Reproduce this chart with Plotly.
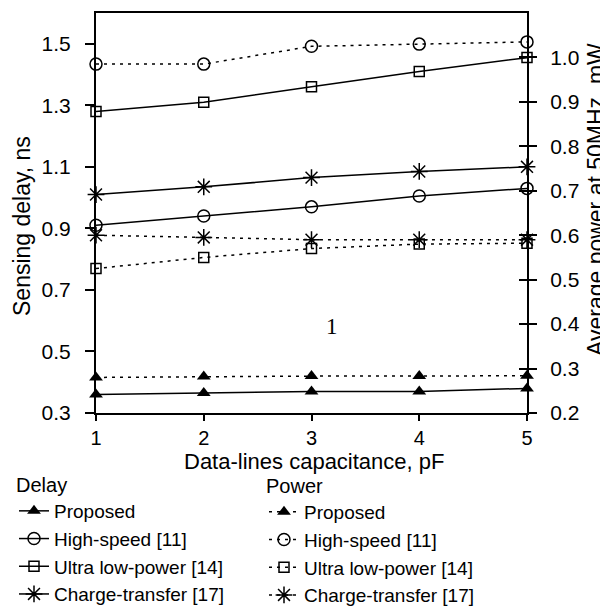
import plotly.graph_objects as go

# ---- data ----
capacitance = [1, 2, 3, 4, 5]

delay_proposed = [0.36, 0.365, 0.37, 0.37, 0.38]
delay_high_speed = [0.91, 0.94, 0.97, 1.005, 1.03]
delay_ultra_low = [1.28, 1.31, 1.36, 1.41, 1.455]
delay_charge = [1.01, 1.035, 1.065, 1.085, 1.10]

power_proposed = [0.28, 0.282, 0.283, 0.283, 0.284]
power_high_speed = [0.985, 0.985, 1.025, 1.03, 1.035]
power_ultra_low = [0.525, 0.55, 0.57, 0.58, 0.582]
power_charge = [0.60, 0.595, 0.59, 0.59, 0.59]

series_names = ["Proposed", "High-speed [11]", "Ultra low-power [14]", "Charge-transfer [17]"]
delay_tick_vals = [0.3, 0.5, 0.7, 0.9, 1.1, 1.3, 1.5]
power_tick_vals = [0.2, 0.3, 0.4, 0.5, 0.6, 0.7, 0.8, 0.9, 1.0]

# ---- styles ----
FONT = "Liberation Sans, Arial, sans-serif"
BLACK = "#000000"
markers = [
    dict(symbol="triangle-up", size=12, color=BLACK, line=dict(width=0)),
    dict(symbol="circle-open", size=12, color=BLACK, line=dict(width=1.5, color=BLACK)),
    dict(symbol="square-open", size=10, color=BLACK, line=dict(width=1.5, color=BLACK)),
    dict(symbol="asterisk-open", size=14, color=BLACK, line=dict(width=1.5, color=BLACK)),
]

delay_series = [delay_proposed, delay_high_speed, delay_ultra_low, delay_charge]
power_series = [power_proposed, power_high_speed, power_ultra_low, power_charge]

fig = go.Figure()
for name, vals, mk in zip(series_names, delay_series, markers):
    fig.add_trace(go.Scatter(
        x=capacitance, y=vals, name=name, mode="lines+markers",
        line=dict(color=BLACK, width=1.5), marker=mk,
        cliponaxis=False, legend="legend", yaxis="y",
    ))
for name, vals, mk in zip(series_names, power_series, markers):
    fig.add_trace(go.Scatter(
        x=capacitance, y=vals, name=name, mode="lines+markers",
        line=dict(color=BLACK, width=1.5, dash="3px,5px"), marker=mk,
        cliponaxis=False, legend="legend2", yaxis="y2",
    ))
# helper (empty) trace for the inner right-axis ticks
fig.add_trace(go.Scatter(x=[], y=[], yaxis="y3", showlegend=False, hoverinfo="skip"))

# page body has an 8px margin: figure origin sits at (8, 8) on screen
OFF = 8
W, H = 600, 601
# plot area in screen pixels: x 96..527, y 13..413
L = 96 - OFF
R = W - (527 - OFF)
T = 13 - OFF
B = H - (413 - OFF)
pw, ph = W - L - R, H - T - B

def px_x(p):  # screen px -> paper x
    return (p - OFF - L) / pw

def px_y(p):  # screen px -> paper y
    return (H - B - (p - OFF)) / ph

fig.update_layout(
    width=W, height=H,
    margin=dict(l=L, r=R, t=T, b=B, autoexpand=False),
    paper_bgcolor="white", plot_bgcolor="white",
    font=dict(family=FONT, size=21, color=BLACK),
    xaxis=dict(
        range=[1, 5], tickvals=capacitance, ticks="outside", ticklen=6, tickwidth=1.5,
        tickcolor=BLACK, showline=True, linewidth=2, linecolor=BLACK, mirror=True,
        showgrid=False, zeroline=False, ticklabelstandoff=0,
        tickfont=dict(size=20),
    ),
    yaxis=dict(
        range=[0.3, 1.6], tickvals=delay_tick_vals, tickformat=".1f",
        ticks="outside", ticklen=9, tickwidth=1.5, tickcolor=BLACK,
        showline=True, linewidth=2, linecolor=BLACK,
        showgrid=False, zeroline=False, ticklabelstandoff=10,
        tickfont=dict(size=21),
    ),
    yaxis2=dict(
        range=[0.2, 1.1], tickvals=power_tick_vals, tickformat=".1f",
        overlaying="y", side="right", anchor="x",
        ticks="outside", ticklen=8, tickwidth=1.5, tickcolor=BLACK,
        showline=True, linewidth=2, linecolor=BLACK,
        showgrid=False, zeroline=False, ticklabelstandoff=9,
        tickfont=dict(size=21),
    ),
    yaxis3=dict(
        range=[0.2, 1.1], tickvals=power_tick_vals,
        overlaying="y", side="right", anchor="x",
        ticks="inside", ticklen=8, tickwidth=1.5, tickcolor=BLACK,
        showticklabels=False, showline=False, showgrid=False, zeroline=False,
    ),
    legend=dict(
        title=dict(text="Delay", font=dict(size=20)),
        xref="paper", yref="paper",
        x=px_x(14), y=px_y(466), xanchor="left", yanchor="top",
        bgcolor="rgba(0,0,0,0)", font=dict(size=19), tracegroupgap=0,
    ),
    legend2=dict(
        title=dict(text="Power", font=dict(size=20)),
        xref="paper", yref="paper",
        x=px_x(264), y=px_y(467), xanchor="left", yanchor="top",
        bgcolor="rgba(0,0,0,0)", font=dict(size=19), tracegroupgap=0,
    ),
    annotations=[
        dict(text="Sensing delay, ns", xref="paper", yref="paper",
             x=px_x(22), y=px_y(226), textangle=-90, showarrow=False,
             font=dict(size=23), xanchor="center", yanchor="middle"),
        dict(text="Average power at 50MHz, mW", xref="paper", yref="paper",
             x=px_x(596), y=px_y(200), textangle=-90, showarrow=False,
             font=dict(size=23), xanchor="center", yanchor="middle"),
        dict(text="Data-lines capacitance, pF", xref="paper", yref="paper",
             x=px_x(314), y=px_y(461), showarrow=False,
             font=dict(size=22), xanchor="center", yanchor="middle"),
        dict(text="1", xref="x", yref="y", x=3.19, y=0.58, showarrow=False,
             font=dict(family="Liberation Serif, Times New Roman, serif", size=23)),
    ],
)

fig.write_html("out.html")
